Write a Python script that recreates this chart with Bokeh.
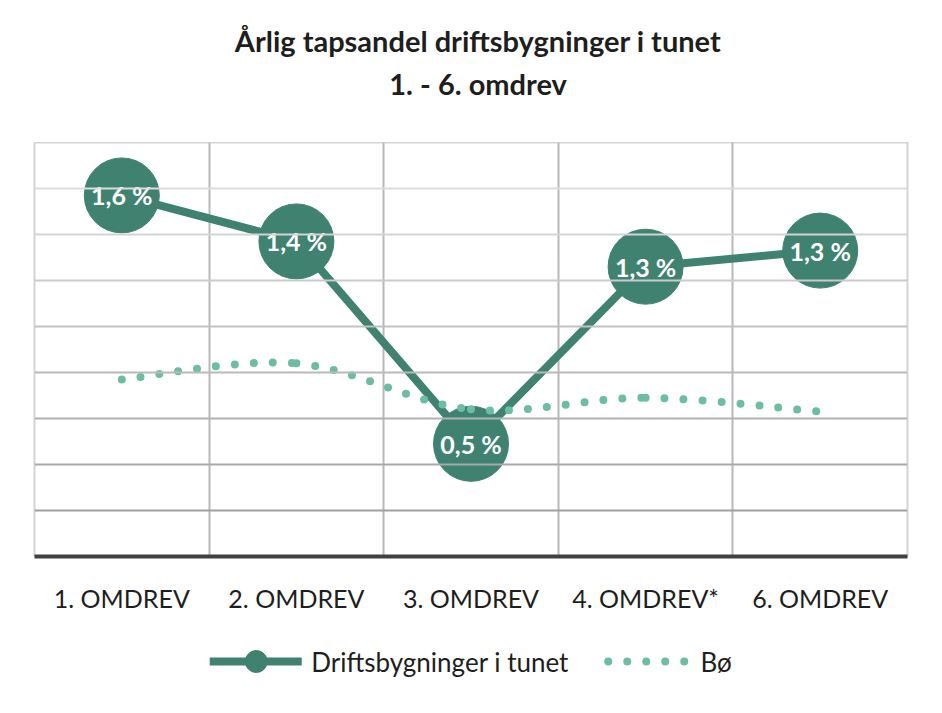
from bokeh.plotting import figure
from bokeh.layouts import column
from bokeh.models import Range1d, FixedTicker, Legend, LegendItem, Span
from bokeh.core.properties import value
from bokeh.embed import file_html
from bokeh.resources import INLINE

categories = ["1. OMDREV", "2. OMDREV", "3. OMDREV", "4. OMDREV*", "6. OMDREV"]
drift = [1.57, 1.37, 0.49, 1.26, 1.33]
drift_labels = ["1,6 %", "1,4 %", "0,5 %", "1,3 %", "1,3 %"]
bo = [0.77, 0.84, 0.64, 0.69, 0.63]
y_grid = [0.2, 0.4, 0.6, 0.8, 1.0, 1.2, 1.4, 1.6]
title1 = "Årlig tapsandel driftsbygninger i tunet"
title2 = "1. - 6. omdrev"
series_names = ["Driftsbygninger i tunet", "Bø"]

FONT = "Lato"
DARK = "#3F8270"
LIGHT = "#6DBDA5"
TXT = "#1e1e1e"

W = 926
LEFT, RIGHT, TOP_H = 34, 19, 142
FRAME_W, FRAME_H = 873, 414

# ---- title strip (pixel-unit canvas) ----
tf = figure(width=W, height=TOP_H, x_range=Range1d(0, W), y_range=Range1d(0, TOP_H),
            output_backend="svg", toolbar_location=None,
            min_border_left=0, min_border_right=0, min_border_top=0, min_border_bottom=0)
tf.axis.visible = False
tf.grid.visible = False
tf.outline_line_color = None
tf.title = None
tf.text(x=[LEFT + FRAME_W / 2] * 2, y=[TOP_H - 40, TOP_H - 83], text=[title1, title2],
        text_align="center", text_baseline="middle", text_color=TXT,
        text_font=value(FONT), text_font_style="bold", text_font_size="29px")

# ---- main chart ----
n = len(categories)
xs = [i + 0.5 for i in range(n)]

p = figure(frame_width=FRAME_W, frame_height=FRAME_H, x_range=Range1d(0, n), y_range=Range1d(0, 1.8),
           output_backend="svg", toolbar_location=None,
           min_border_left=LEFT, min_border_right=RIGHT, min_border_top=0, min_border_bottom=65)
p.title = None
p.outline_line_color = "#d4d4d4"
p.outline_line_width = 2
p.background_fill_color = "white"
p.border_fill_color = "white"
p.yaxis.visible = False
p.ygrid.visible = False

for i, yv in enumerate(y_grid):
    t = i / (len(y_grid) - 1)
    c = int(0xa0 + (0xdc - 0xa0) * t)
    p.add_layout(Span(location=yv, dimension="width", line_color="#%02x%02x%02x" % (c, c, c), line_width=2))

p.xgrid.ticker = FixedTicker(ticks=list(range(n + 1)))
p.xgrid.grid_line_color = "#b8b8b8"
p.xgrid.grid_line_width = 2

p.xaxis.ticker = FixedTicker(ticks=xs)
p.xaxis.major_label_overrides = {x: c for x, c in zip(xs, categories)}
p.xaxis.axis_line_color = "#404040"
p.xaxis.axis_line_width = 4
p.xaxis.major_tick_line_color = None
p.xaxis.minor_tick_line_color = None
p.xaxis.major_label_text_font = FONT
p.xaxis.major_label_text_font_size = "25px"
p.xaxis.major_label_text_color = TXT
p.xaxis.major_label_standoff = 20

p.line(xs, drift, line_color=DARK, line_width=8)
p.scatter(xs, drift, size=75, fill_color=DARK, line_color=DARK)

# smoothed Bø curve (Catmull-Rom style Bezier segments computed from data)
x0, y0, x1, y1, cx0, cy0, cx1, cy1 = [], [], [], [], [], [], [], []
for i in range(n - 1):
    pm = max(i - 1, 0)
    pp = min(i + 2, n - 1)
    x0.append(xs[i]); y0.append(bo[i])
    x1.append(xs[i + 1]); y1.append(bo[i + 1])
    cx0.append(xs[i] + (xs[i + 1] - xs[pm]) / 6)
    cy0.append(bo[i] + (bo[i + 1] - bo[pm]) / 6)
    cx1.append(xs[i + 1] - (xs[pp] - xs[i]) / 6)
    cy1.append(bo[i + 1] - (bo[pp] - bo[i]) / 6)
p.bezier(x0=x0, y0=y0, x1=x1, y1=y1, cx0=cx0, cy0=cy0, cx1=cx1, cy1=cy1,
         line_color=LIGHT, line_width=8, line_dash="0 19", line_cap="round")

p.text(xs, drift, text=drift_labels, text_align="center", text_baseline="middle",
       text_color="white", text_font_style="bold", text_font_size="25px", text_font=value(FONT))

# ---- legend strip below the chart ----
lf = figure(width=W, height=80, x_range=Range1d(0, 1), y_range=Range1d(0, 1),
            output_backend="svg", toolbar_location=None,
            min_border_left=0, min_border_right=0, min_border_top=0, min_border_bottom=0)
lf.axis.visible = False
lf.grid.visible = False
lf.outline_line_color = None
lf.title = None
lf.border_fill_color = "white"
nan = [float("nan")]
l_line = lf.line(x=nan, y=nan, line_color=DARK, line_width=8, line_cap="round")
l_circ = lf.scatter(x=nan, y=nan, size=22, fill_color=DARK, line_color=DARK)
l_bo = lf.line(x=nan, y=nan, line_color=LIGHT, line_width=8, line_dash="0 19", line_cap="round",
               line_dash_offset=-9)
legend = Legend(items=[LegendItem(label=series_names[0], renderers=[l_line, l_circ]),
                       LegendItem(label=series_names[1], renderers=[l_bo])],
                orientation="horizontal", location="center",
                glyph_width=92, glyph_height=55, spacing=30, label_standoff=10,
                label_text_font=FONT, label_text_font_size="26px", label_text_color=TXT,
                border_line_color=None, background_fill_alpha=0, padding=0, margin=0)
lf.add_layout(legend, "center")

open("out.html", "w").write(file_html(column(tf, p, lf), INLINE))
